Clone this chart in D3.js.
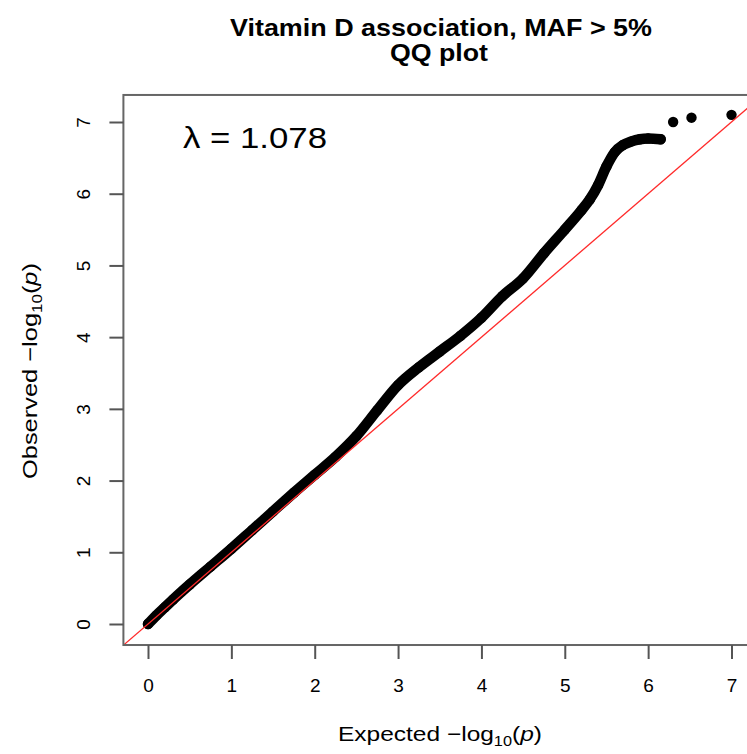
<!DOCTYPE html>
<html>
<head>
<meta charset="utf-8">
<script src="https://cdnjs.cloudflare.com/ajax/libs/d3/7.8.5/d3.min.js"></script>
<style>
  body { margin: 0; background: #fff; }
  text { font-family: 'Liberation Sans', Arial, sans-serif; }
</style>
</head>
<body>
<div id="qq-canvas"></div>
<script>
// values (expected vs observed -log10 p)
const expected = [0, 0.1, 0.2, 0.3, 0.5, 0.75, 1.0, 1.25, 1.5, 1.75, 2.0, 2.25, 2.5, 2.75,
  3.0, 3.25, 3.5, 3.75, 4.0, 4.25, 4.5, 4.75, 5.0, 5.2, 5.3, 5.4, 5.5, 5.6, 5.7,
  5.8, 5.9, 6.0, 6.15]
const observed = [0, 0.12, 0.23, 0.34, 0.55, 0.8, 1.05, 1.31, 1.57, 1.83, 2.08, 2.33, 2.62, 2.98,
  3.33, 3.58, 3.8, 4.02, 4.27, 4.57, 4.82, 5.17, 5.5, 5.77, 5.92, 6.12, 6.38, 6.58, 6.68,
  6.73, 6.76, 6.77, 6.76]
// the few separate top hits
const topExpected = [6.3, 6.52, 7.0]
const topObserved = [7.0, 7.06, 7.1]
const ticks = [0, 1, 2, 3, 4, 5, 6, 7]
const lambdaLabel = 'λ = 1.078'

const W = 747, H = 754

const svg = d3.select('#qq-canvas')
  .append('svg')
  .attr('width', W)
  .attr('height', H)

// scales (plot region runs past the right edge, as in the original)
const x = d3.scaleLinear().domain([0, 7]).range([148, 731.5])
const y = d3.scaleLinear().domain([0, 7]).range([624, 122])
const box = { x0: x(-0.295), x1: x(7.37), y0: y(7.377), y1: y(-0.293) }

svg.append('clipPath').attr('id', 'plot-clip')
  .append('rect')
  .attr('x', box.x0).attr('y', box.y0)
  .attr('width', box.x1 - box.x0).attr('height', box.y1 - box.y0)

const plot = svg.append('g').attr('clip-path', 'url(#plot-clip)')

// dense band of overlapping points
const pts = expected.map((e, i) => [e, observed[i]])
plot.append('path')
  .datum(pts)
  .attr('fill', 'none')
  .attr('stroke', '#000')
  .attr('stroke-width', 10.5)
  .attr('stroke-linejoin', 'round')
  .attr('stroke-linecap', 'round')
  .attr('d', d3.line().x(d => x(d[0])).y(d => y(d[1])).curve(d3.curveMonotoneX))

plot.selectAll('circle.pt')
  .data(pts.concat(topExpected.map((e, i) => [e, topObserved[i]])))
  .enter().append('circle')
  .attr('class', 'pt')
  .attr('cx', d => x(d[0]))
  .attr('cy', d => y(d[1]))
  .attr('r', 5.2)
  .attr('fill', '#000')

// y = x reference line
plot.append('line')
  .attr('x1', x(-0.3)).attr('y1', y(-0.3))
  .attr('x2', x(7.6)).attr('y2', y(7.6))
  .attr('stroke', '#ff2a2a')
  .attr('stroke-width', 1.3)

// box
svg.append('rect')
  .attr('x', box.x0).attr('y', box.y0)
  .attr('width', box.x1 - box.x0).attr('height', box.y1 - box.y0)
  .attr('fill', 'none')
  .attr('stroke', '#666')
  .attr('stroke-width', 2)

// axes
const xAxis = svg.append('g')
  .attr('transform', 'translate(0,' + box.y1 + ')')
  .call(d3.axisBottom(x).tickValues(ticks).tickSize(14).tickPadding(20).tickFormat(d3.format('d')))
const yAxis = svg.append('g')
  .attr('transform', 'translate(' + box.x0 + ',0)')
  .call(d3.axisLeft(y).tickValues(ticks).tickSize(14).tickPadding(8).tickFormat(d3.format('d')))

for (const ax of [xAxis, yAxis]) {
  ax.attr('font-size', 19).attr('font-family', null)
  ax.select('.domain').remove()
  ax.selectAll('.tick line').attr('stroke', '#555').attr('stroke-width', 2)
  ax.selectAll('.tick text').attr('fill', '#000').style('font-size', '19px')
}
xAxis.selectAll('.tick text').attr('dy', '0.71em')
yAxis.selectAll('.tick text')
  .attr('text-anchor', 'middle')
  .attr('dy', 0)
  .attr('transform', 'translate(-39,0) rotate(-90)')
  .attr('x', 0)
  .attr('y', 6)

// titles
svg.append('text')
  .attr('x', 441).attr('y', 36)
  .attr('text-anchor', 'middle')
  .attr('textLength', 422).attr('lengthAdjust', 'spacingAndGlyphs')
  .style('font-size', '24px').style('font-weight', 'bold')
  .text('Vitamin D association, MAF > 5%')
svg.append('text')
  .attr('x', 439).attr('y', 61)
  .attr('text-anchor', 'middle')
  .attr('textLength', 98).attr('lengthAdjust', 'spacingAndGlyphs')
  .style('font-size', '24px').style('font-weight', 'bold')
  .text('QQ plot')

svg.append('text')
  .attr('x', 183).attr('y', 148)
  .attr('textLength', 144).attr('lengthAdjust', 'spacingAndGlyphs')
  .style('font-size', '29px')
  .text(lambdaLabel)

function axisTitle(sel, word) {
  sel.append('tspan').text(word + '  −log')
  sel.append('tspan').attr('dy', 5).style('font-size', '14px').text('10')
  sel.append('tspan').attr('dy', -5).text('(')
  sel.append('tspan').style('font-style', 'italic').text('p')
  sel.append('tspan').text(')')
}

const xt = svg.append('text')
  .attr('x', 440).attr('y', 741)
  .attr('text-anchor', 'middle')
  .attr('textLength', 204).attr('lengthAdjust', 'spacingAndGlyphs')
  .style('font-size', '21px')
axisTitle(xt, 'Expected')

const yt = svg.append('text')
  .attr('transform', 'translate(37,371) rotate(-90)')
  .attr('text-anchor', 'middle')
  .attr('textLength', 216).attr('lengthAdjust', 'spacingAndGlyphs')
  .style('font-size', '21px')
axisTitle(yt, 'Observed')
</script>
</body>
</html>
